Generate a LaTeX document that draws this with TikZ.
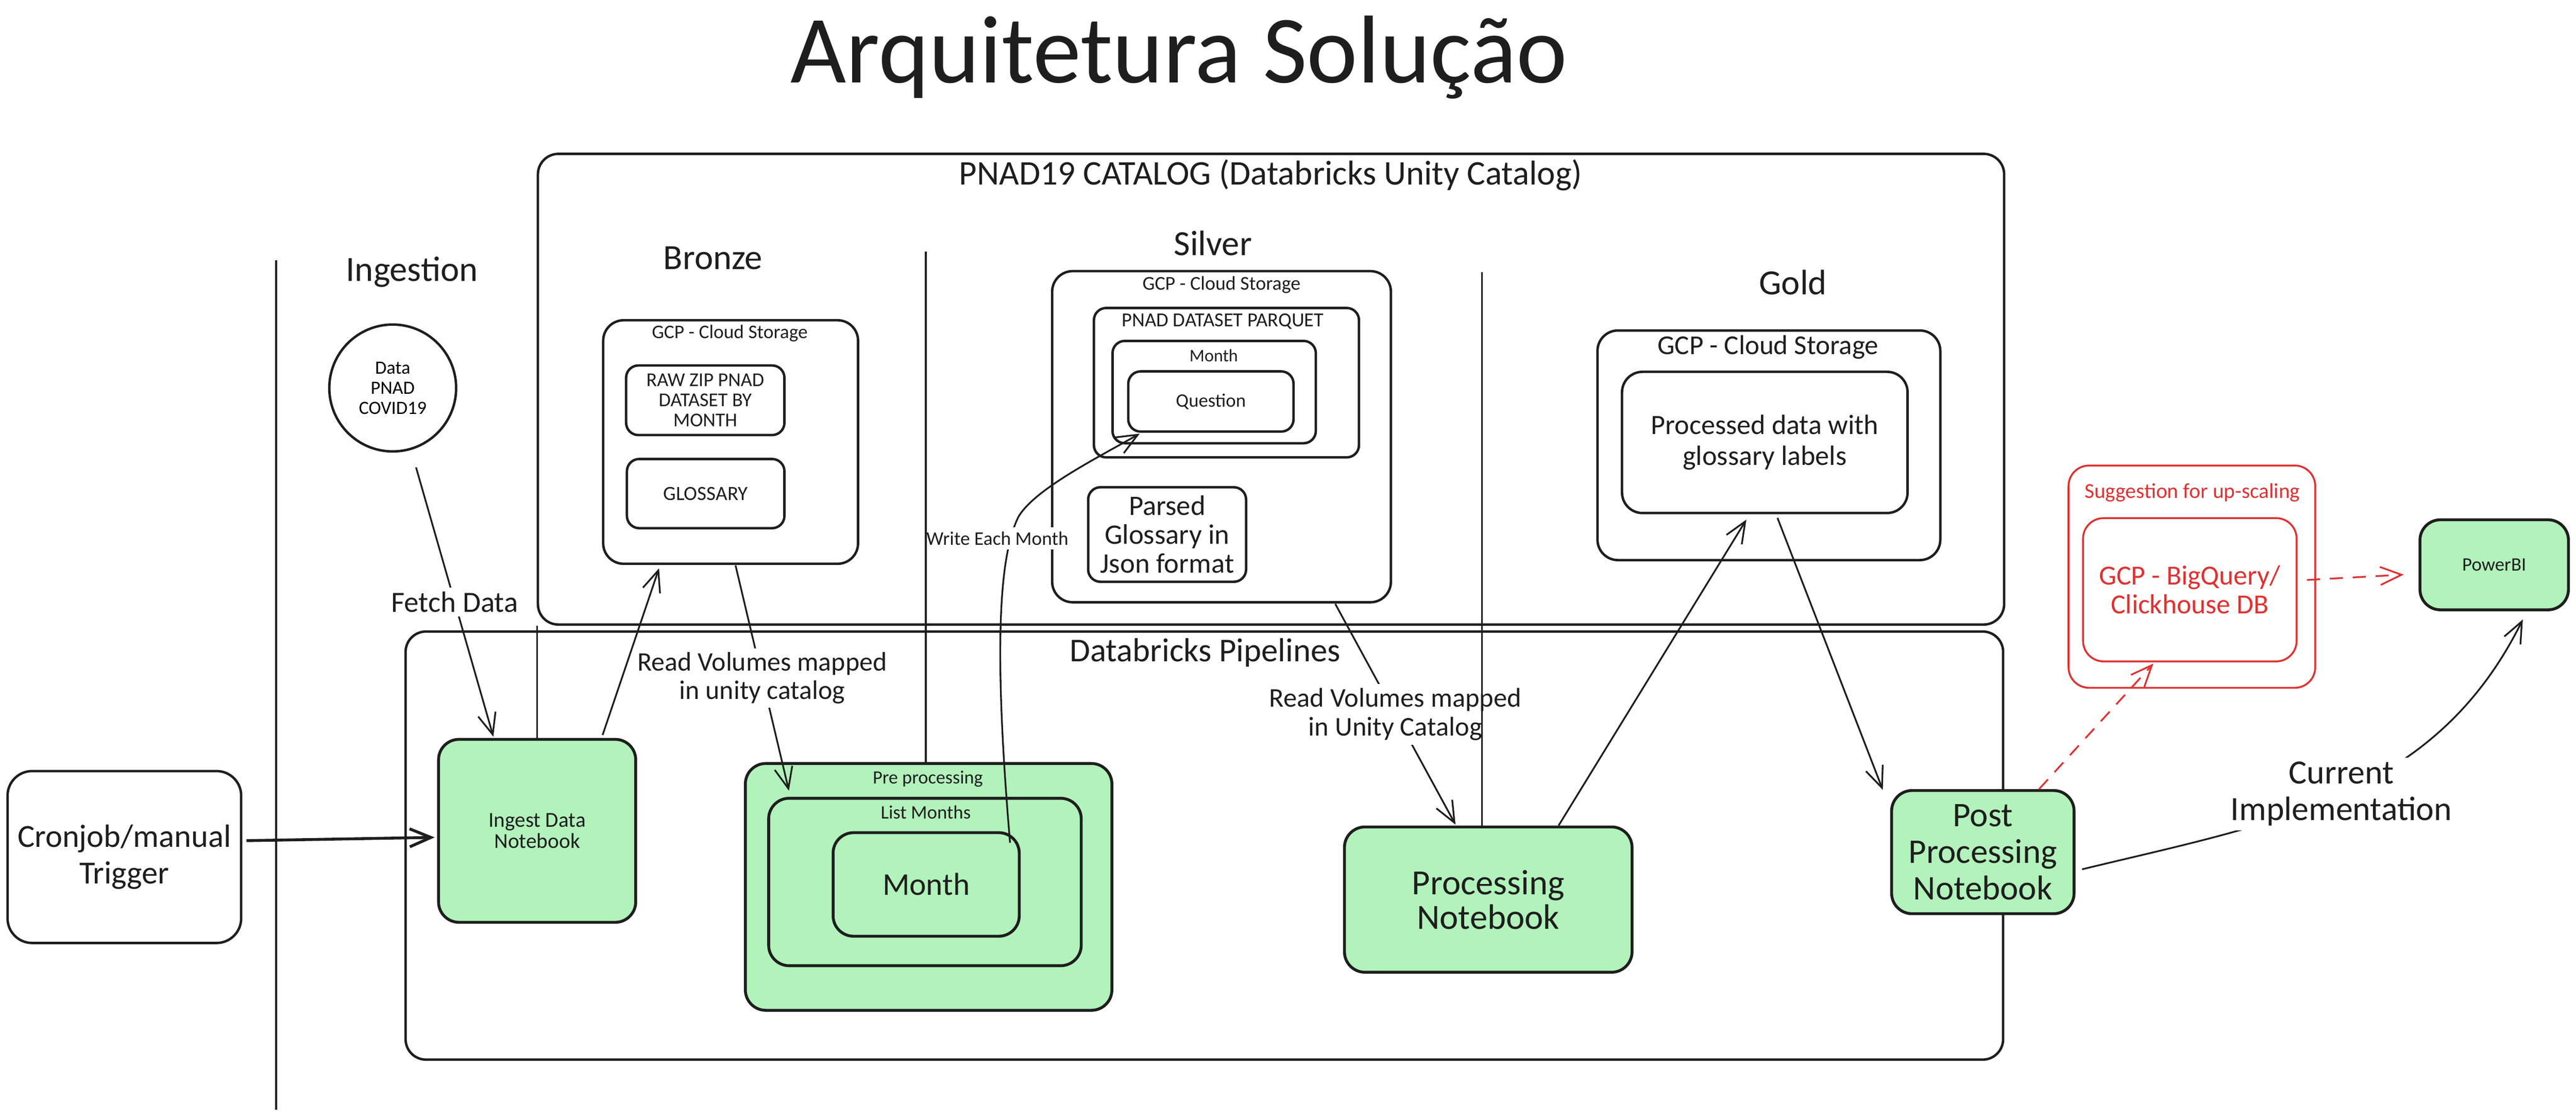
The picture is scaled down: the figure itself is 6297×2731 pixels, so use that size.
\documentclass[tikz,border=0pt]{standalone}
\usepackage{fontspec}
\setmainfont{Carlito}
\usetikzlibrary{positioning,calc,arrows.meta}
\pgfdeclarelayer{background}
\pgfdeclarelayer{foreground}
\pgfsetlayers{background,main,foreground}
\definecolor{notegreen}{HTML}{B2F2BB}
\definecolor{sugred}{HTML}{E03131}
\definecolor{inkblack}{HTML}{1E1E1E}

\begin{document}
\begin{tikzpicture}[x=0.05mm, y=-0.05mm,
							rbox/.style={draw=inkblack, line width=0.85pt, rounded corners=2.5mm, align=center, inner sep=0pt, text=inkblack},
							sbox/.style={rbox, rounded corners=1.5mm},
							gbox/.style={rbox, line width=1pt, fill=notegreen},
							redbox/.style={rbox, line width=0.65pt, draw=sugred, text=sugred},
							txt/.style={text=inkblack, inner sep=0pt, align=center},
							head/.style={txt, font=\fontsize{12.3}{14}\selectfont},
							lbl/.style={fill=white, align=center, inner sep=1.5pt, text=inkblack},
							flow/.style={draw=inkblack, line width=0.6pt, -{Straight Barb[length=2.6mm,width=2.2mm]}},
							redflow/.style={flow, draw=sugred, line width=0.6pt, dash pattern=on 1.6mm off 1.2mm},
							colline/.style={draw=inkblack, line width=0.6pt},
							]
							\useasboundingbox (0,0) rectangle (6297,2731);
							%Nodes
							\node[txt, font=\fontsize{33.5}{36}\selectfont] (title) at (2882,140) {Arquitetura Solução};
							\node[rbox, minimum width=179.2mm, minimum height=57.5mm] (catalog) at (3107,951) {};
							\node[rbox, minimum width=195.25mm, minimum height=52.3mm] (pipelines) at (2944,2066) {};
							\node[txt, font=\fontsize{12}{14}\selectfont] (catalogname) at (3106,428) {PNAD19 CATALOG (Databricks Unity Catalog)};
							\node[txt, font=\fontsize{11.6}{14}\selectfont] (pipelinesname) at (2946,1595) {Databricks Pipelines};
							\node[head] (ingestionname) at (1007,665) {Ingestion};
							\node[head] (bronzename) at (1743,630) {Bronze};
							\node[head] (silvername) at (2965,594) {Silver};
							\node[head] (goldname) at (4383,690) {Gold};
							% ingestion
							\node[rbox, rounded corners=3mm, minimum width=28.55mm, minimum height=21mm, font=\fontsize{11.2}{12.8}\selectfont] (cron) at (304,2094) {Cronjob/manual\\Trigger};
							\node[circle, draw=inkblack, line width=0.85pt, minimum size=15.5mm, align=center, inner sep=0pt, font=\fontsize{6.5}{7}\selectfont] (datacircle) at (960,948) {Data\\PNAD\\COVID19};
							\node[gbox, minimum width=24.1mm, minimum height=22.35mm, font=\fontsize{7.4}{7.4}\selectfont] (ingestnb) at (1313,2030) {Ingest Data\\Notebook};
							% bronze
							\node[rbox, minimum width=31.15mm, minimum height=29.75mm] (bronzegcp) at (1786,1080) {};
							\node[txt, font=\fontsize{6.7}{8}\selectfont] (bronzegcpname) at (1784,814) {GCP - Cloud Storage};
							\node[sbox, minimum width=19.35mm, minimum height=8.5mm, font=\fontsize{6.8}{7}\selectfont] (rawzip) at (1724,978) {RAW ZIP PNAD\\DATASET BY\\MONTH};
							\node[sbox, minimum width=19.25mm, minimum height=8.45mm, font=\fontsize{7}{8}\selectfont] (glossary) at (1725,1206) {GLOSSARY};
							% silver
							\node[rbox, minimum width=41.4mm, minimum height=40.45mm] (silvergcp) at (2986,1067) {};
							\node[txt, font=\fontsize{6.8}{8}\selectfont] (silvergcpname) at (2986,696) {GCP - Cloud Storage};
							\node[sbox, minimum width=32.4mm, minimum height=18.25mm] (parquet) at (2998,935) {};
							\node[txt, font=\fontsize{6.9}{8}\selectfont] (parquetname) at (2989,785) {PNAD DATASET PARQUET};
							\node[sbox, minimum width=24.85mm, minimum height=12.5mm] (smonth) at (2968,958) {};
							\node[txt, font=\fontsize{6.1}{7}\selectfont] (smonthname) at (2967,869) {Month};
							\node[sbox, minimum width=20.2mm, minimum height=7.35mm, font=\fontsize{6.6}{7}\selectfont] (question) at (2960,981) {Question};
							\node[sbox, minimum width=19.3mm, minimum height=11.55mm, font=\fontsize{9.8}{10}\selectfont] (parsed) at (2853,1306) {Parsed\\Glossary in\\Json format};
							% gold
							\node[rbox, minimum width=41.9mm, minimum height=28.05mm] (goldgcp) at (4324,1088) {};
							\node[txt, font=\fontsize{9.5}{11}\selectfont] (goldgcpname) at (4322,849) {GCP - Cloud Storage};
							\node[rbox, minimum width=34.9mm, minimum height=17.25mm, font=\fontsize{9.7}{10.7}\selectfont] (processed) at (4314,1081) {Processed data with\\glossary labels};
							% pipelines
							\node[gbox, minimum width=44.8mm, minimum height=30.15mm] (preproc) at (2270,2167) {};
							\node[txt, font=\fontsize{6.5}{8}\selectfont] (preprocname) at (2268,1903) {Pre processing};
							\node[gbox, minimum width=38.2mm, minimum height=20.45mm] (listmonths) at (2261,2155) {};
							\node[txt, font=\fontsize{6.6}{8}\selectfont] (listmonthsname) at (2263,1984) {List Months};
							\node[gbox, minimum width=22.75mm, minimum height=12.65mm, font=\fontsize{11}{12}\selectfont] (pmonth) at (2264,2161) {Month};
							\node[gbox, minimum width=35.15mm, minimum height=17.75mm, font=\fontsize{12.3}{12}\selectfont] (procnb) at (3638,2198) {Processing\\Notebook};
							\node[gbox, minimum width=22.3mm, minimum height=15.05mm, font=\fontsize{12}{12.7}\selectfont] (postnb) at (4847,2082) {Post\\Processing\\Notebook};
							% up-scaling and report
							\node[redbox, minimum width=30.15mm, minimum height=27.15mm] (upscale) at (5358,1409) {};
							\node[txt, text=sugred, font=\fontsize{7.4}{8}\selectfont] (upscalename) at (5359,1204) {Suggestion for up-scaling};
							\node[redbox, minimum width=26.1mm, minimum height=17.5mm, font=\fontsize{9.6}{10}\selectfont] (bigquery) at (5353,1441) {GCP - BigQuery/\\Clickhouse DB};
							\node[gbox, minimum width=18.15mm, minimum height=11mm, font=\fontsize{6.6}{7}\selectfont] (powerbi) at (6097,1380) {PowerBI};
							
							%Lines
							\draw[flow, line width=1pt] ($(cron.east)+(10,-40)$) -- ($(ingestnb.west)+(-6,16)$);
							\draw[flow] ($(datacircle.south)+(57,36)$) -- node[lbl, font=\fontsize{10.2}{11}\selectfont] (fetchname) {Fetch Data} ($(ingestnb.north)+(-107,-3)$);
							\draw[flow] ($(ingestnb.north)+(160,-7)$) -- ($(bronzegcp.south)+(-175,8)$);
							\draw[flow] ($(bronzegcp.south)+(12,1)$) -- node[lbl, font=\fontsize{9.3}{9.7}\selectfont] (readname) {Read Volumes mapped\\in unity catalog} ($(preproc.north west)+(110,70)$);
							\draw[flow] ($(pmonth.north east)+(-26,28)$) .. controls (2430,1600) and (2440,1360) .. node[lbl, pos=0.85, xshift=-1.6mm, font=\fontsize{6.7}{8}\selectfont] (writename) {Write Each Month} (2490,1262) .. controls (2530,1195) and (2680,1120) .. ($(question.south west)+(31,2)$);
							\draw[flow] ($(silvergcp.south)+(278,1)$) -- node[lbl, font=\fontsize{9.4}{10}\selectfont] (readname2) {Read Volumes mapped\\in Unity Catalog} ($(procnb.north)+(-80,-2)$);
							\draw[flow] ($(procnb.north)+(172,0)$) -- ($(processed.south)+(-45,13)$);
							\draw[flow] ($(processed.south)+(31,9)$) -- ($(postnb.north west)+(-18,2)$);
							\draw[redflow] ($(postnb.north east)+(-89,0)$) -- ($(bigquery.south)+(-89,3)$);
							\draw[redflow] ($(bigquery.east)+(23,-24)$) -- ($(powerbi.west)+(-36,24)$);
							\draw[flow] ($(postnb.east)+(16,42)$) .. controls (5560,2010) and (5950,1950) .. node[lbl, font=\fontsize{11.8}{12.7}\selectfont] (currentname) {Current\\Implementation} ($(powerbi.south)+(70,20)$);
							
							\begin{pgfonlayer}{foreground}
							%Columns
							\draw[colline] (675,636) -- (675,2712);
							\draw[colline] (ingestnb.north |- catalog.south) -- (ingestnb.north);
							\draw[colline] (2263,615) -- (2263,1865);
							\draw[colline] (3623,665) -- (3623,2020);
							\end{pgfonlayer}
						\end{tikzpicture}
\end{document}
